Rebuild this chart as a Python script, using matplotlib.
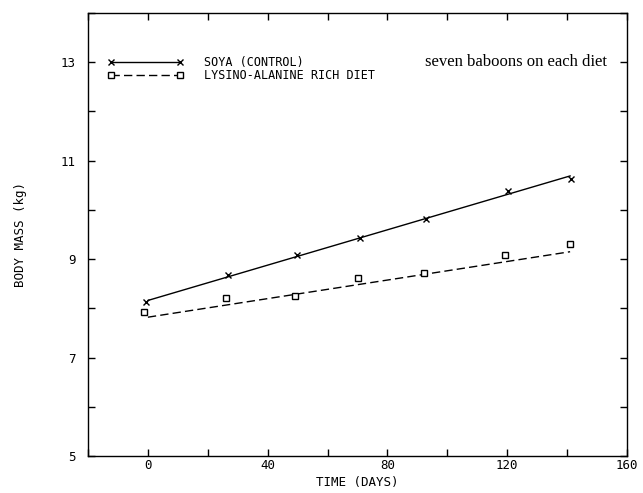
import matplotlib
matplotlib.use("Agg")
import matplotlib.pyplot as plt
from matplotlib.lines import Line2D

# ---- data ----
soya_days = [-0.7, 26.7, 49.9, 70.9, 92.9, 120.1, 141.2]
soya_mass = [8.12, 8.67, 9.09, 9.43, 9.82, 10.38, 10.63]
lys_days = [-1.3, 26.0, 49.0, 70.1, 92.1, 119.3, 140.8]
lys_mass = [7.92, 8.22, 8.25, 8.61, 8.71, 9.09, 9.30]
fit_days = [0, 141]
soya_fit = [8.16, 10.69]
lys_fit = [7.82, 9.15]

xticks_major = [-20, 0, 20, 40, 60, 80, 100, 120, 140, 160]
xtick_labels = ["", "0", "", "40", "", "80", "", "120", "", "160"]
yticks_major = [5, 6, 7, 8, 9, 10, 11, 12, 13, 14]
ytick_labels = ["5", "", "7", "", "9", "", "11", "", "13", ""]

legend_labels = ["SOYA (CONTROL)", "LYSINO-ALANINE RICH DIET"]
note = "seven baboons on each diet"

MONO = "DejaVu Sans Mono"

fig = plt.figure(figsize=(6.43, 4.93), dpi=100)
ax = fig.add_axes([88 / 643, 1 - 456 / 493, (627 - 88) / 643, (456 - 13) / 493])

# soya
ax.plot(fit_days, soya_fit, color="black", lw=1.0, ls="-")
ax.plot(soya_days, soya_mass, ls="none", marker="x", ms=5, mew=1.0, color="black")
# lysino-alanine
ax.plot(fit_days, lys_fit, color="black", lw=1.0, dashes=(6, 3))
ax.plot(lys_days, lys_mass, ls="none", marker="s", ms=4.5, mew=1.0,
        mfc="white", mec="black")

ax.set_xlim(-20, 160)
ax.set_ylim(5, 14)
ax.set_xticks(xticks_major)
ax.set_xticklabels(xtick_labels, family=MONO, fontsize=9)
ax.set_yticks(yticks_major)
ax.set_yticklabels(ytick_labels, family=MONO, fontsize=9)
ax.tick_params(direction="in", length=5, width=1.0, top=True, right=True)
ax.tick_params(axis="x", pad=2)
ax.tick_params(axis="y", pad=9)
for sp in ax.spines.values():
    sp.set_linewidth(1.0)

ax.set_xlabel("TIME (DAYS)", family=MONO, fontsize=9, labelpad=3)
ax.set_ylabel("BODY MASS (kg)", family=MONO, fontsize=9, labelpad=24)

handles = [
    Line2D([], [], color="black", lw=1.0, marker="x", ms=5, mew=1.0),
    Line2D([], [], color="black", lw=1.0, dashes=(6, 3), marker="s", ms=4,
           mfc="white", mec="black"),
]
leg = ax.legend(handles, legend_labels, loc="upper left",
                bbox_to_anchor=(0.037, 0.903), frameon=False, numpoints=2,
                handlelength=6.4, handletextpad=1.7, labelspacing=0.0,
                handleheight=0.6, borderpad=0, borderaxespad=0,
                prop={"family": MONO, "size": 8.5})

ax.text(0.963, 0.889, note, transform=ax.transAxes, ha="right", va="center",
        family="Liberation Serif", fontsize=12)

fig.savefig("out.png", dpi=100)
